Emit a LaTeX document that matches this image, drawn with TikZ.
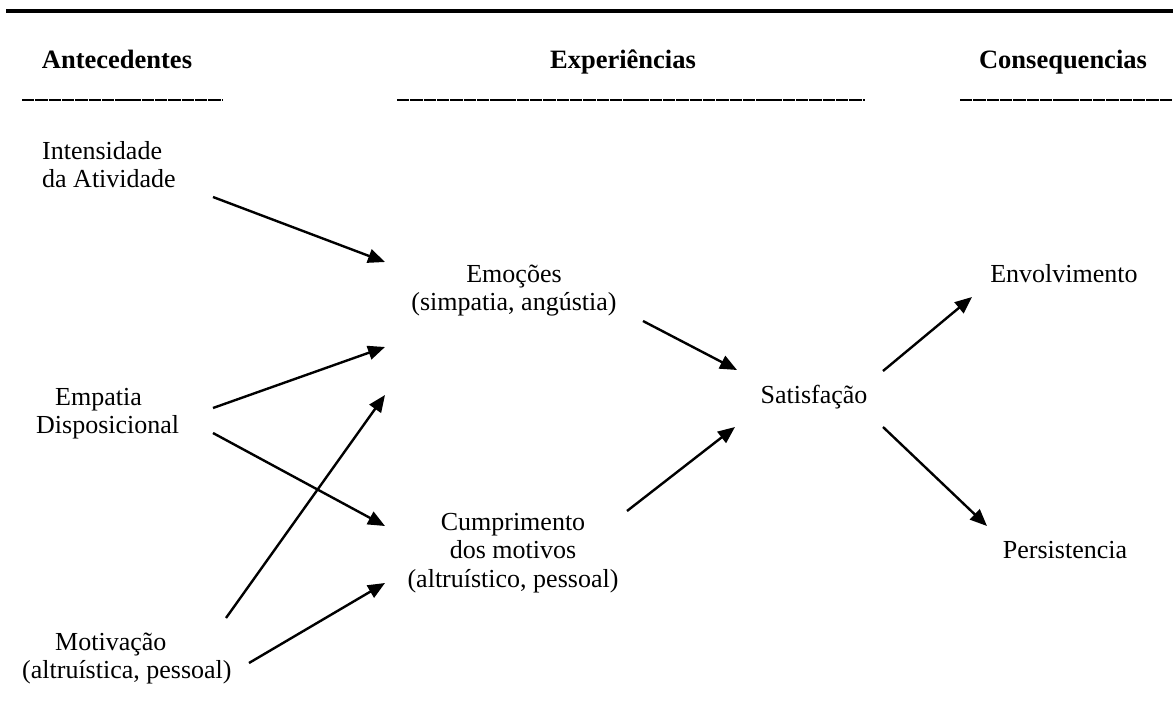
\documentclass[tikz,border=0pt]{standalone}
\usepackage{fontspec}
\setmainfont{Liberation Serif}
\usetikzlibrary{arrows.meta}
\tikzset{
  lbl/.style={anchor=base, inner sep=0pt, font=\fontsize{26}{28.5}\selectfont},
  lblw/.style={lbl, anchor=base west},
  head/.style={anchor=base, inner sep=0pt, font=\fontsize{26.5}{28.5}\selectfont\bfseries},
  rule/.style={line width=1.4pt, dash pattern=on 12.4pt off 0.9pt},
  conn/.style={line width=2.4pt, -{Triangle[length=17pt,width=14pt]}}
}
\begin{document}
\begin{tikzpicture}[x=1pt,y=-1pt]
\useasboundingbox (0,0) rectangle (1173,715);
% top rule
\draw[line width=4.3pt] (6,11) -- (1173,11);
% headings
\node[head] (hant) at (117,68) {Antecedentes};
\node[head] (hexp) at (623,68) {Experiências};
\node[head] (hcon) at (1063,68) {Consequencias};
\draw[rule] (22,100) -- (222,100);
\draw[rule] (397,100) -- (865,100);
\draw[rule] (960,100) -- (1173,100);
% nodes
\node[lblw] (int) at (42,159) {\begin{tabular}[t]{@{}l@{}}Intensidade\\da Atividade\end{tabular}};
\node[lblw] (emp) at (36,405) {\begin{tabular}[t]{@{}l@{}}\hspace*{19pt}Empatia\\Disposicional\end{tabular}};
\node[lblw] (mot) at (22,650) {\begin{tabular}[t]{@{}l@{}}\hspace*{33pt}Motivação\\(altruística, pessoal)\end{tabular}};
\node[lbl] (emo) at (514,282) {\begin{tabular}[t]{@{}c@{}}Emoções\\(simpatia, angústia)\end{tabular}};
\node[lbl] (cum) at (513,530) {\begin{tabular}[t]{@{}c@{}}Cumprimento\\dos motivos\\(altruístico, pessoal)\end{tabular}};
\node[lbl] (sat) at (814,403) {Satisfação};
\node[lbl] (env) at (1064,282) {Envolvimento};
\node[lbl] (per) at (1065,558) {Persistencia};
% connector ends
\coordinate (int-o) at (213,197);
\coordinate (emp-o1) at (213,408);
\coordinate (emp-o2) at (213,433);
\coordinate (mot-o1) at (226,618);
\coordinate (mot-o2) at (249,663);
\coordinate (emo-i1) at (385,262);
\coordinate (emo-i2) at (385,347);
\coordinate (emo-i3) at (385,395);
\coordinate (emo-o) at (643,321);
\coordinate (cum-i1) at (385,526);
\coordinate (cum-i2) at (385,583);
\coordinate (cum-o) at (627,511);
\coordinate (sat-i1) at (737,370);
\coordinate (sat-i2) at (735,427);
\coordinate (sat-o1) at (883,371);
\coordinate (sat-o2) at (883,427);
\coordinate (env-i) at (972,297);
\coordinate (per-i) at (987,526);
% connectors
\draw[conn] (int-o) -- (emo-i1);
\draw[conn] (emp-o1) -- (emo-i2);
\draw[conn] (emp-o2) -- (cum-i1);
\draw[conn] (mot-o1) -- (emo-i3);
\draw[conn] (mot-o2) -- (cum-i2);
\draw[conn] (emo-o) -- (sat-i1);
\draw[conn] (cum-o) -- (sat-i2);
\draw[conn] (sat-o1) -- (env-i);
\draw[conn] (sat-o2) -- (per-i);
\end{tikzpicture}
\end{document}
